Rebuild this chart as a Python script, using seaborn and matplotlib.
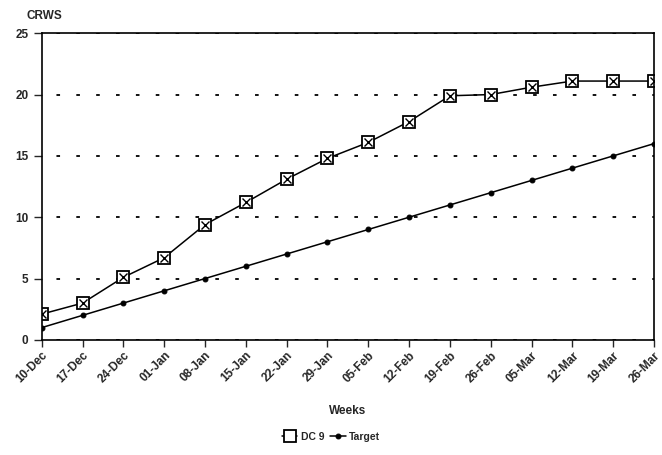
import pandas as pd
import matplotlib.pyplot as plt
import seaborn as sns

# Datos
semanas = ["10-Dec", "17-Dec", "24-Dec", "01-Jan", "08-Jan", "15-Jan", "22-Jan", "29-Jan",
           "05-Feb", "12-Feb", "19-Feb", "26-Feb", "05-Mar", "12-Mar", "19-Mar", "26-Mar"]
dc9 = [2.1, 3.0, 5.1, 6.7, 9.4, 11.2, 13.1, 14.8, 16.1, 17.8, 19.9, 20.0, 20.6, 21.1, 21.1, 21.1]
target = [1, 2, 3, 4, 5, 6, 7, 8, 9, 10, 11, 12, 13, 14, 15, 16]

df = pd.DataFrame({"pos": range(len(semanas)), "DC 9": dc9, "Target": target})

sns.set_style("white")
plt.rcParams['font.family'] = ['Liberation Sans', 'DejaVu Sans']
plt.rcParams['font.weight'] = 'bold'

fig = plt.figure(figsize=(6.62, 4.55), dpi=100)
ax = fig.add_axes([0.063, 0.253, 0.925, 0.674])

# Lineas
sns.lineplot(data=df, x="pos", y="DC 9", ax=ax, color="black", linewidth=1.1,
             marker="s", markersize=9, markerfacecolor="white", markeredgecolor="black",
             markeredgewidth=1.3, label="DC 9", legend=False)
ax.plot(df["pos"], df["DC 9"], linestyle="none", marker="x", markersize=6,
        color="black", markeredgewidth=1.0)
sns.lineplot(data=df, x="pos", y="Target", ax=ax, color="black", linewidth=1.1,
             marker="o", markersize=3.5, markeredgecolor="black", label="Target", legend=False)

# Ejes
ax.set_xlim(0, len(semanas) - 1)
ax.set_ylim(0, 25)
ax.set_yticks([0, 5, 10, 15, 20, 25])
ax.set_xticks(range(len(semanas)))
ax.set_xticklabels(semanas, rotation=45, ha="right", rotation_mode="anchor",
                   fontsize=8.5, fontweight="bold")
ax.tick_params(axis="y", labelsize=8.5, direction="out", length=6, width=1, left=True)
ax.tick_params(axis="x", direction="out", length=5, width=1, bottom=True, pad=2)

for s in ax.spines.values():
    s.set_color("black")
    s.set_linewidth(1.2)

ax.yaxis.grid(True, color="black", linestyle=(3, (2, 9)), linewidth=1.3)
ax.xaxis.grid(False)

ax.set_xlabel("Weeks", fontsize=8.5, fontweight="bold", labelpad=14)
ax.set_ylabel("")
fig.text(0.04, 0.965, "CRWS", fontsize=8.5, fontweight="bold", ha="left", va="center")

handles = ax.get_lines()
fig.legend([handles[0], handles[2]], ["DC 9", "Target"], loc="center",
           bbox_to_anchor=(0.5, 0.04), ncol=2, frameon=False,
           handlelength=1.5, columnspacing=0.6, handletextpad=0.3,
           prop={"weight": "bold", "size": 7.5})

fig.savefig("out.png", dpi=100)
